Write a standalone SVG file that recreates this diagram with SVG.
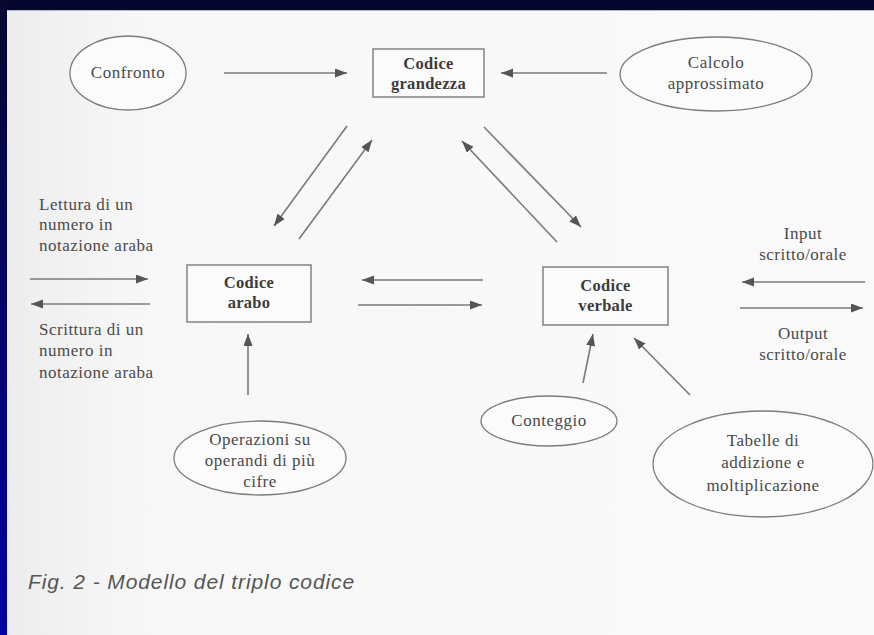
<svg xmlns="http://www.w3.org/2000/svg" width="874" height="635" viewBox="0 0 874 635">
  <defs>
    <linearGradient id="sideBar" x1="0" y1="0" x2="0" y2="1">
      <stop offset="0" stop-color="#07072e"/>
      <stop offset="1" stop-color="#0000a6"/>
    </linearGradient>
    <linearGradient id="paper" x1="0" y1="0" x2="1" y2="0">
      <stop offset="0" stop-color="#ececec"/>
      <stop offset="0.15" stop-color="#f7f7f7"/>
      <stop offset="1" stop-color="#fafafa"/>
    </linearGradient>
    <marker id="head" markerUnits="userSpaceOnUse" markerWidth="14" markerHeight="10" refX="12" refY="4.5" orient="auto">
      <path d="M0,0 L12,4.5 L0,9 Z" fill="#555"/>
    </marker>
    <style>
      .edge { stroke: #7a7a7a; stroke-width: 1.6; fill: none; marker-end: url(#head); }
      .box { fill: #fbfbfb; stroke: #8a8a8a; stroke-width: 1.6; }
      .oval { fill: #fbfbfb; stroke: #7c7c7c; stroke-width: 1.3; }
      .lbl { font-family: "Liberation Serif", "Times New Roman", serif; font-size: 17px; fill: #4a4a4a; letter-spacing: 0.5px; }
      .mid { text-anchor: middle; }
      .bold { font-weight: bold; fill: #3c3c3c; font-size: 16.5px; letter-spacing: 0.3px; }
      .cap { font-family: "Liberation Sans", Arial, sans-serif; font-style: italic; font-size: 21px; fill: #555; letter-spacing: 0.9px; }
    </style>
  </defs>

  <!-- page and frame -->
  <rect x="0" y="0" width="874" height="635" fill="url(#paper)"/>
  <rect x="0" y="0" width="874" height="10" fill="#06062c"/>
  <rect x="0" y="10" width="874" height="1" fill="#b8b8cc"/>
  <rect x="0" y="0" width="7" height="635" fill="url(#sideBar)"/>

  <!-- connectors -->
  <g id="connectors">
    <line class="edge" x1="224" y1="73" x2="347" y2="73"/>
    <line class="edge" x1="607" y1="73" x2="501" y2="73"/>
    <line class="edge" x1="347" y1="126" x2="274" y2="226"/>
    <line class="edge" x1="299" y1="239" x2="372" y2="140"/>
    <line class="edge" x1="557" y1="242" x2="462" y2="141"/>
    <line class="edge" x1="484" y1="127" x2="581" y2="227"/>
    <line class="edge" x1="483" y1="280" x2="362" y2="280"/>
    <line class="edge" x1="358" y1="305" x2="482" y2="305"/>
    <line class="edge" x1="30" y1="279" x2="148" y2="279"/>
    <line class="edge" x1="150" y1="304" x2="31" y2="304"/>
    <line class="edge" x1="865" y1="282" x2="742" y2="282"/>
    <line class="edge" x1="740" y1="308" x2="863" y2="308"/>
    <line class="edge" x1="248" y1="395" x2="248" y2="334"/>
    <line class="edge" x1="583" y1="383" x2="593" y2="334"/>
    <line class="edge" x1="690" y1="395" x2="634" y2="338"/>
  </g>

  <!-- central codes -->
  <g id="codice-grandezza">
    <rect class="box" x="373" y="49" width="111" height="48"/>
    <text class="lbl mid bold" x="428.5" y="69">Codice</text>
    <text class="lbl mid bold" x="428.5" y="89">grandezza</text>
  </g>
  <g id="codice-arabo">
    <rect class="box" x="187" y="265" width="124" height="57"/>
    <text class="lbl mid bold" x="249" y="288">Codice</text>
    <text class="lbl mid bold" x="249" y="308">arabo</text>
  </g>
  <g id="codice-verbale">
    <rect class="box" x="543" y="267" width="125" height="58"/>
    <text class="lbl mid bold" x="605.5" y="291">Codice</text>
    <text class="lbl mid bold" x="605.5" y="311">verbale</text>
  </g>

  <!-- processes -->
  <g id="confronto">
    <ellipse class="oval" cx="128" cy="73" rx="58" ry="37"/>
    <text class="lbl mid" x="128" y="78">Confronto</text>
  </g>
  <g id="calcolo-approssimato">
    <ellipse class="oval" cx="716" cy="74" rx="96" ry="37"/>
    <text class="lbl mid" x="716" y="68">Calcolo</text>
    <text class="lbl mid" x="716" y="89">approssimato</text>
  </g>
  <g id="operazioni">
    <ellipse class="oval" cx="260" cy="458" rx="86" ry="37"/>
    <text class="lbl mid" x="260" y="445">Operazioni su</text>
    <text class="lbl mid" x="260" y="466">operandi di più</text>
    <text class="lbl mid" x="260" y="487">cifre</text>
  </g>
  <g id="conteggio">
    <ellipse class="oval" cx="549" cy="421" rx="68" ry="25"/>
    <text class="lbl mid" x="549" y="426">Conteggio</text>
  </g>
  <g id="tabelle">
    <ellipse class="oval" cx="763" cy="464" rx="110" ry="53"/>
    <text class="lbl mid" x="763" y="446">Tabelle di</text>
    <text class="lbl mid" x="763" y="468">addizione e</text>
    <text class="lbl mid" x="763" y="491">moltiplicazione</text>
  </g>

  <!-- input / output labels -->
  <g id="lettura">
    <text class="lbl" x="39" y="210">Lettura di un</text>
    <text class="lbl" x="39" y="230">numero in</text>
    <text class="lbl" x="39" y="251">notazione araba</text>
  </g>
  <g id="scrittura">
    <text class="lbl" x="39" y="335">Scrittura di un</text>
    <text class="lbl" x="39" y="356">numero in</text>
    <text class="lbl" x="39" y="378">notazione araba</text>
  </g>
  <g id="input">
    <text class="lbl mid" x="803" y="239">Input</text>
    <text class="lbl mid" x="803" y="260">scritto/orale</text>
  </g>
  <g id="output">
    <text class="lbl mid" x="803" y="339">Output</text>
    <text class="lbl mid" x="803" y="360">scritto/orale</text>
  </g>

  <text class="cap" x="28" y="589">Fig. 2 - Modello del triplo codice</text>
</svg>
